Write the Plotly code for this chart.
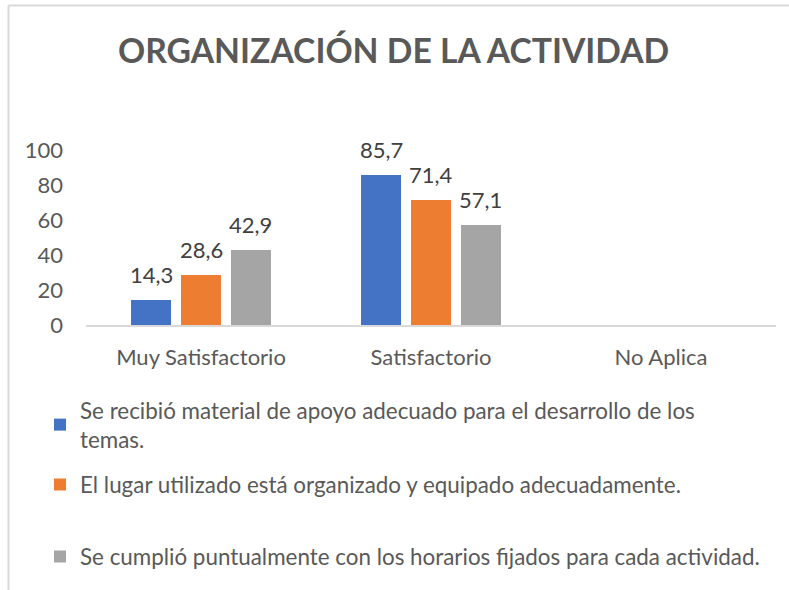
import plotly.graph_objects as go

# Survey results: percentage of responses per rating
categories = ["Muy Satisfactorio", "Satisfactorio", "No Aplica"]
series_names = [
    "Se recibió material de apoyo adecuado para el desarrollo de los<br>temas.",
    "El lugar utilizado está organizado y equipado adecuadamente.",
    "Se cumplió puntualmente con los horarios fijados para cada actividad.",
]
material_apoyo = [14.3, 85.7, None]
lugar_equipado = [28.6, 71.4, None]
horarios = [42.9, 57.1, None]
y_ticks = [0, 20, 40, 60, 80, 100]

colors = ["#4472C4", "#ED7D31", "#A5A5A5"]
series_values = [material_apoyo, lugar_equipado, horarios]

W, H = 789, 590
M_L, M_R, M_T, M_B = 86, 13, 150, 265
PLOT_W = W - M_L - M_R
PLOT_H = H - M_T - M_B
BARGAP = 0.348
FONT = "Lato, 'Open Sans', sans-serif"
TEXT_SIZE = 22

def px_x(px):
    return (px - M_L) / PLOT_W

def px_y(py):
    return (H - M_B - py) / PLOT_H

fig = go.Figure()
legend_ids = ["legend", "legend2", "legend3"]
for name, vals, col, lg in zip(series_names, series_values, colors, legend_ids):
    fig.add_trace(go.Bar(
        x=categories, y=vals, name=name, marker_color=col,
        marker_line_width=0, legend=lg,
    ))

# value labels above each bar, offset to the bar's slot in the group
cat_w = PLOT_W / len(categories)
slot = cat_w * (1 - BARGAP) / len(series_values)
annotations = []
for i, vals in enumerate(series_values):
    for cat, v in zip(categories, vals):
        if v is None:
            continue
        annotations.append(dict(
            x=cat, y=v, xref="x", yref="y", text=f"{v:.1f}".replace(".", ","),
            showarrow=False, yanchor="bottom", xshift=(i - 1) * slot, yshift=10,
            font=dict(family=FONT, size=TEXT_SIZE, color="#404040"),
        ))

title_ann = dict(
    text="<b>ORGANIZACIÓN DE LA ACTIVIDAD</b>", x=px_x(393), y=px_y(50),
    xref="paper", yref="paper", showarrow=False, xanchor="center", yanchor="middle",
    font=dict(family=FONT, size=33.7, color="#595959"),
)
annotations.append(title_ann)

# outer frame lines (left and top)
frame_color = "#D9D9D9"
shapes = [
    dict(type="line", xref="paper", yref="paper", x0=px_x(8.5), x1=px_x(8.5),
         y0=px_y(H + 5), y1=px_y(5.5), line=dict(color=frame_color, width=2)),
    dict(type="line", xref="paper", yref="paper", x0=px_x(8.5), x1=px_x(W + 5),
         y0=px_y(5.5), y1=px_y(5.5), line=dict(color=frame_color, width=2)),
]

legend_font = dict(family=FONT, size=22.4, color="#595959")
def legend_at(py):
    return dict(x=px_x(40), y=px_y(py), xanchor="left", yanchor="middle",
                font=legend_font, bgcolor="rgba(0,0,0,0)", itemclick=False)

fig.update_layout(
    width=W, height=H,
    margin=dict(l=M_L, r=M_R, t=M_T, b=M_B),
    paper_bgcolor="white", plot_bgcolor="white",
    barmode="group", bargap=BARGAP, bargroupgap=0.2,
    showlegend=True,
    legend=legend_at(425), legend2=legend_at(485), legend3=legend_at(557),
    annotations=annotations, shapes=shapes,
    xaxis=dict(
        showline=True, linecolor="#D9D9D9", linewidth=2, showgrid=False,
        ticks="", ticklabelstandoff=12,
        tickfont=dict(family=FONT, size=TEXT_SIZE, color="#595959"),
    ),
    yaxis=dict(
        range=[0, 100], tickvals=y_ticks, showgrid=False, zeroline=False,
        showline=False, ticks="", ticklabelstandoff=22,
        tickfont=dict(family=FONT, size=TEXT_SIZE, color="#595959"),
    ),
)

fig.write_html("out.html")
